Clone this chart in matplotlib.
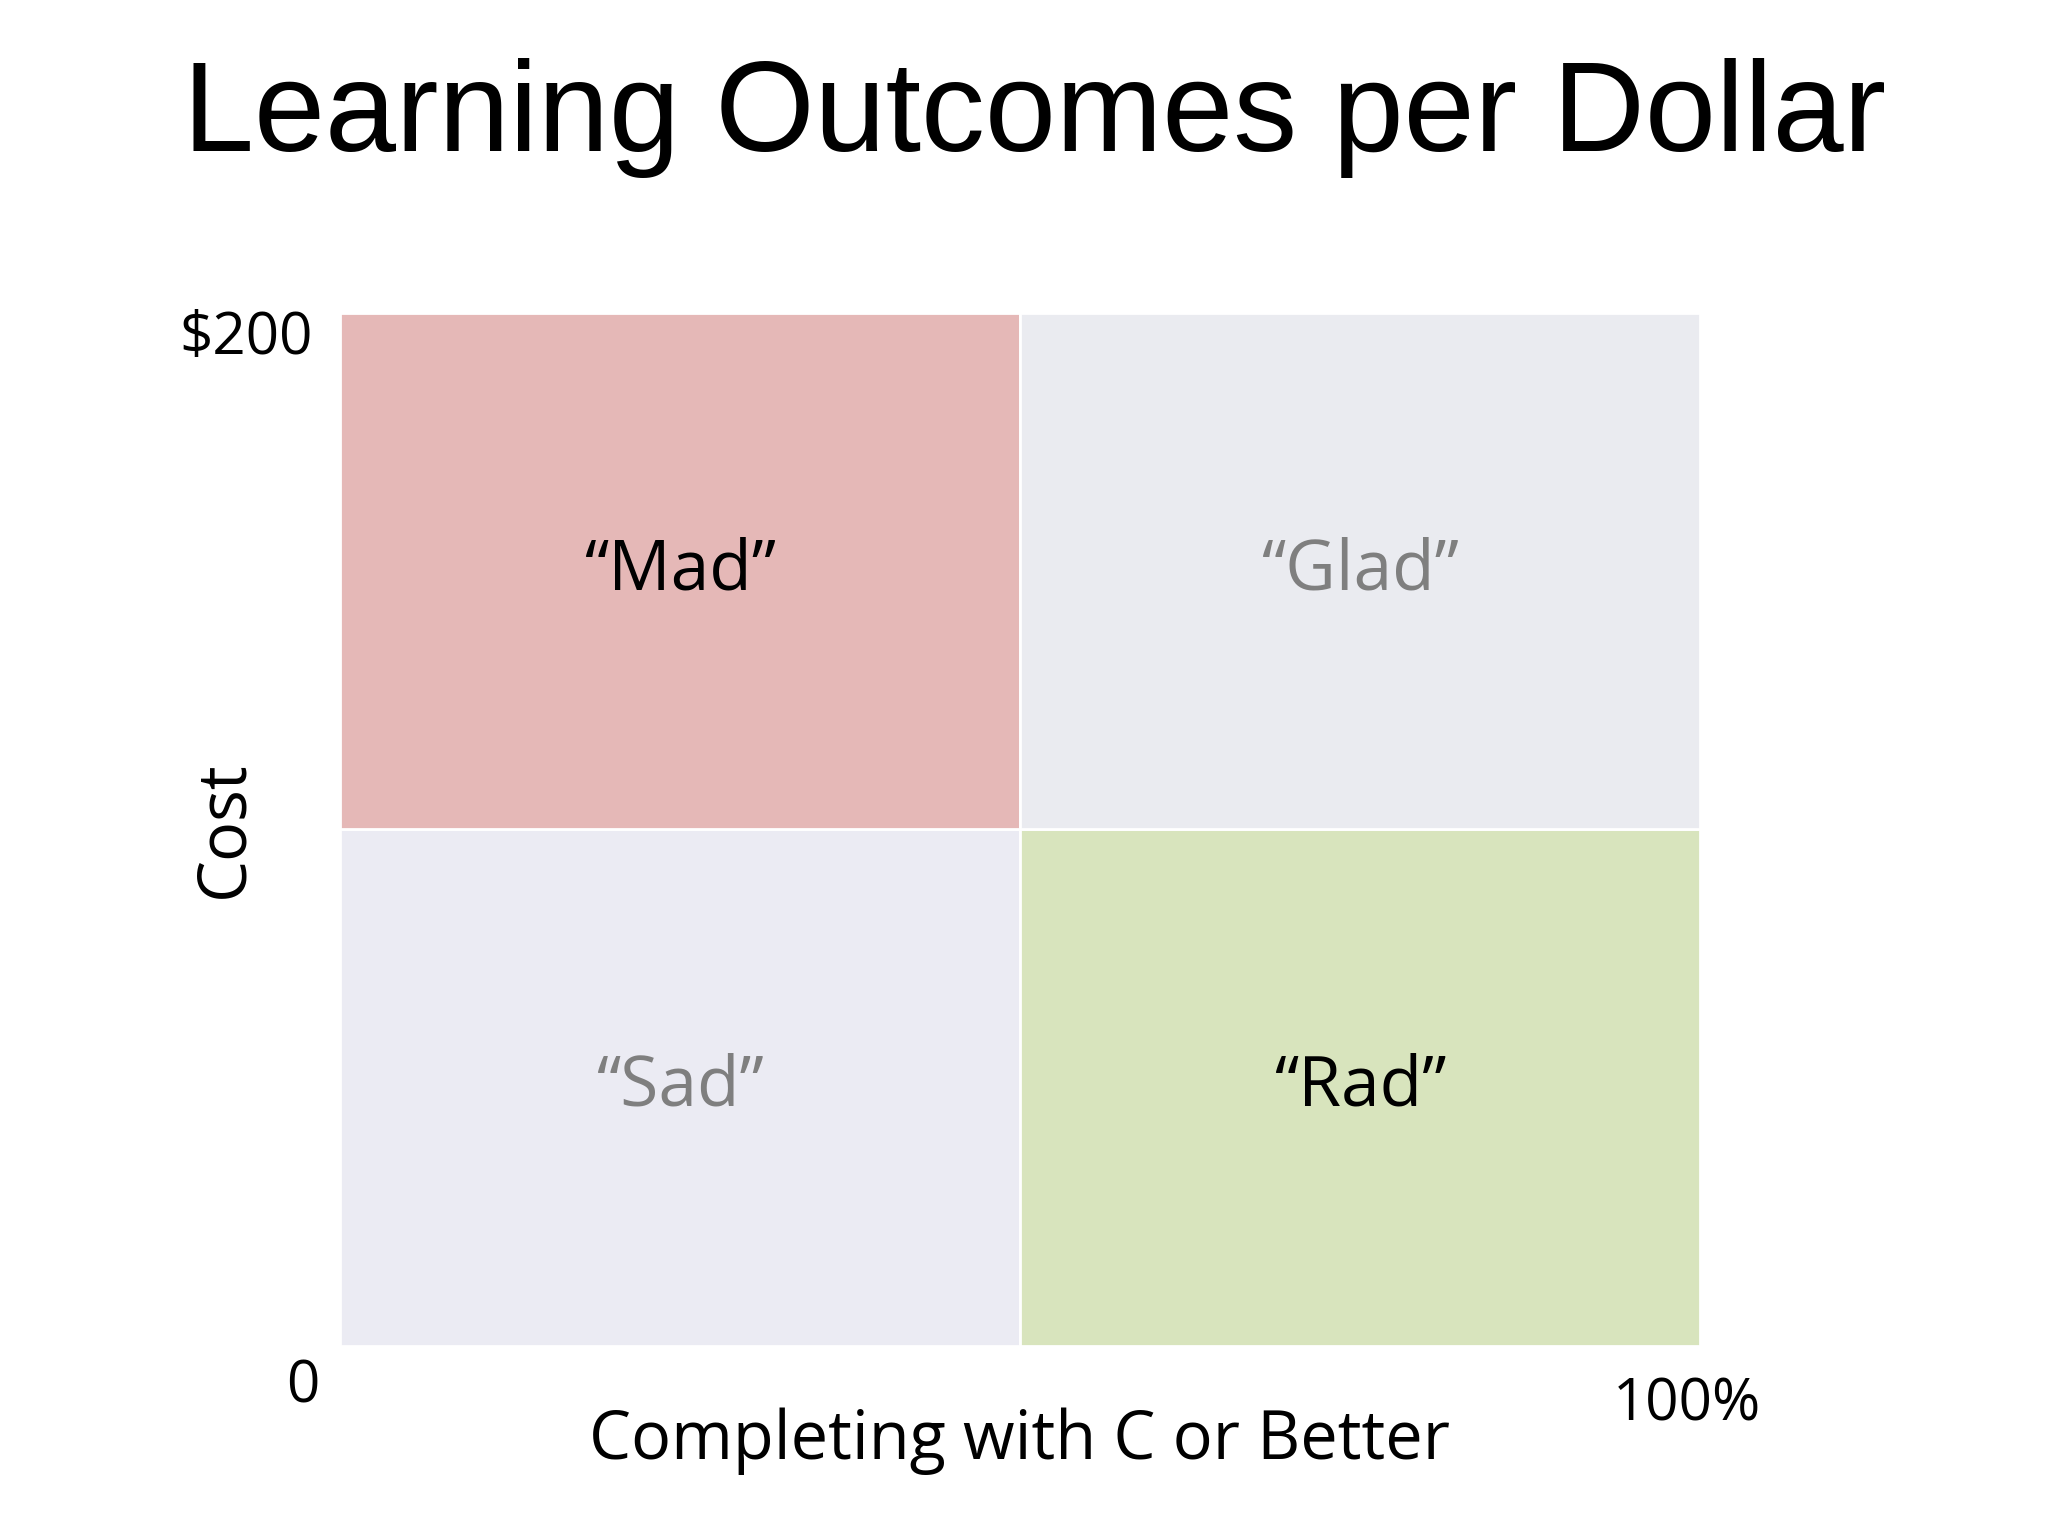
import matplotlib.pyplot as plt

# quadrant data
quad_labels = ['\u201cSad\u201d', '\u201cRad\u201d', '\u201cMad\u201d', '\u201cGlad\u201d']
quad_x = [0, 50, 0, 50]        # completion % (left edge)
quad_y = [0, 0, 100, 100]      # cost $ (bottom edge)
quad_colors = ['#EBEBF3', '#D8E4BD', '#E5B8B7', '#EAEBF0']
text_colors = ['#7F7F7F', '#000000', '#000000', '#7F7F7F']

fig = plt.figure(figsize=(20.48, 15.36), dpi=100)
ax = fig.add_axes([0.166, 0.124, 0.664, 0.672])
for x, y, c, lab, tc in zip(quad_x, quad_y, quad_colors, quad_labels, text_colors):
    ax.bar(x, 100, width=50, bottom=y, align='edge', color=c, edgecolor='white', linewidth=2)
    ax.text(x + 25, y + 50, lab, ha='center', va='center', fontsize=50,
            color=tc, family='Open Sans')
ax.set_xlim(0, 100)
ax.set_ylim(0, 200)
ax.axis('off')

ax.text(-2, 195, '$200', ha='right', va='center', fontsize=42, family='Open Sans')
ax.text(-1.5, -8, '0', ha='right', va='center', fontsize=42, family='Open Sans')
ax.text(104.5, -11.5, '100%', ha='right', va='center', fontsize=42, family='Open Sans')
ax.text(50, -18.5, 'Completing with C or Better', ha='center', va='center', fontsize=48, family='Open Sans')
ax.text(-8.5, 100, 'Cost', ha='center', va='center', rotation=90, fontsize=48, family='Open Sans')

fig.text(0.505, 0.923, 'Learning Outcomes per Dollar', ha='center', va='center',
         fontsize=92, family='Liberation Sans')
fig.savefig('out.png', facecolor='white')
